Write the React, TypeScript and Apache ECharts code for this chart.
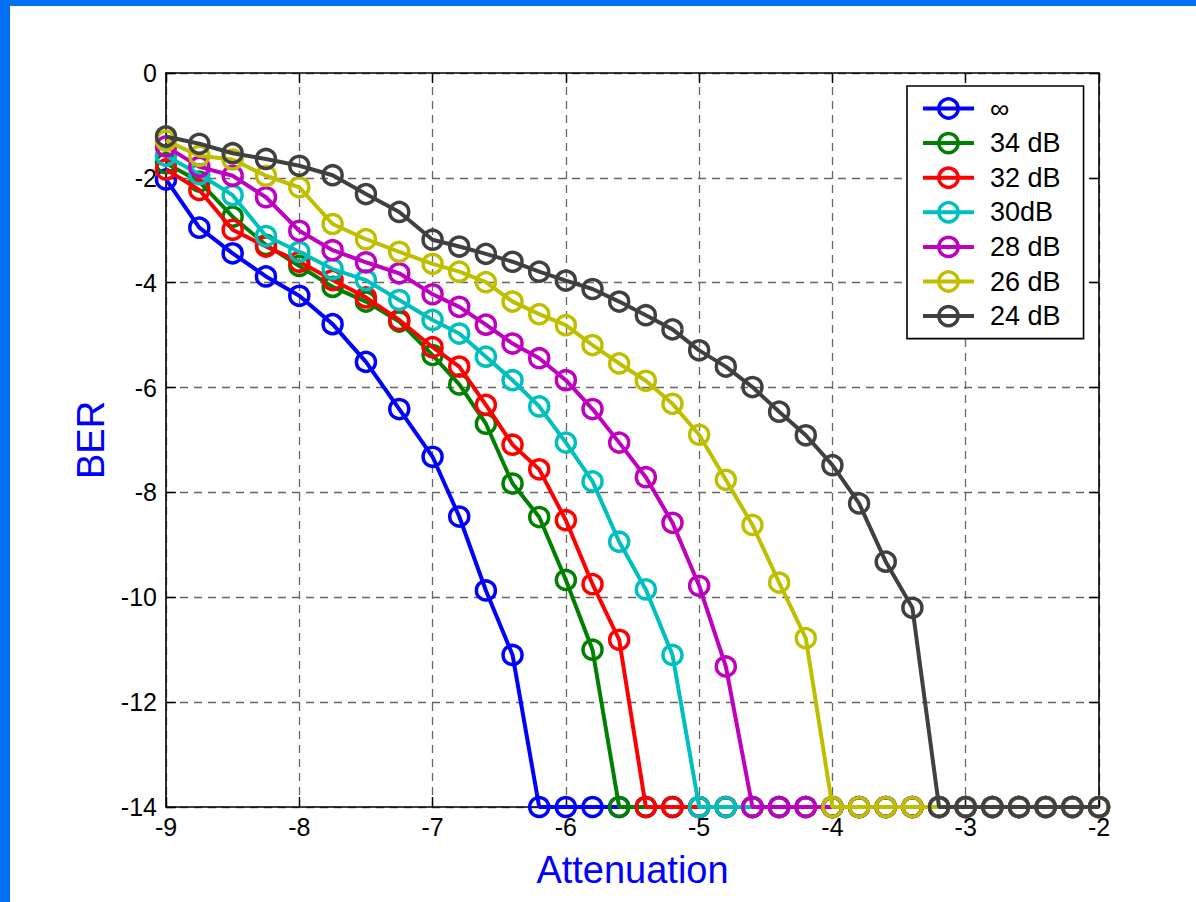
import React, { useEffect, useRef } from "react";
import * as echarts from "echarts";

const attenuation = [
  -9, -8.75, -8.5, -8.25, -8, -7.75, -7.5, -7.25, -7, -6.8, -6.6, -6.4, -6.2, -6, -5.8, -5.6, -5.4,
  -5.2, -5, -4.8, -4.6, -4.4, -4.2, -4, -3.8, -3.6, -3.4, -3.2, -3, -2.8, -2.6, -2.4, -2.2, -2,
];

const seriesNames = ["∞", "34 dB", "32 dB", "30dB", "28 dB", "26 dB", "24 dB"];
const seriesColors = ["#0000ff", "#008000", "#ff0000", "#00bfbf", "#bf00bf", "#bfbf00", "#404040"];

const berInf = [
  -2.03, -2.95, -3.44, -3.88, -4.25, -4.79, -5.51, -6.41, -7.32, -8.46, -9.87, -11.1, -14, -14, -14,
  -14, -14, -14, -14, -14, -14, -14, -14, -14, -14, -14, -14, -14, -14, -14, -14, -14, -14, -14,
];
const ber34 = [
  -1.72, -2.07, -2.74, -3.28, -3.68, -4.08, -4.36, -4.74, -5.38, -5.94, -6.69, -7.83, -8.47, -9.67,
  -11.0, -14, -14, -14, -14, -14, -14, -14, -14, -14, -14, -14, -14, -14, -14, -14, -14, -14, -14, -14,
];
const ber32 = [
  -1.84, -2.23, -2.99, -3.31, -3.6, -3.95, -4.28, -4.71, -5.23, -5.6, -6.33, -7.09, -7.56, -8.53,
  -9.75, -10.81, -14, -14, -14, -14, -14, -14, -14, -14, -14, -14, -14, -14, -14, -14, -14, -14, -14, -14,
];
const ber30 = [
  -1.58, -1.93, -2.33, -3.11, -3.41, -3.74, -3.95, -4.33, -4.71, -4.97, -5.41, -5.86, -6.36, -7.05,
  -7.79, -8.94, -9.85, -11.1, -14, -14, -14, -14, -14, -14, -14, -14, -14, -14, -14, -14, -14, -14, -14, -14,
];
const ber28 = [
  -1.4, -1.79, -1.96, -2.37, -3.01, -3.38, -3.61, -3.82, -4.22, -4.46, -4.8, -5.16, -5.44, -5.86,
  -6.41, -7.05, -7.71, -8.58, -9.78, -11.32, -14, -14, -14, -14, -14, -14, -14, -14, -14, -14, -14, -14, -14, -14,
];
const ber26 = [
  -1.29, -1.58, -1.65, -1.96, -2.18, -2.88, -3.17, -3.41, -3.64, -3.79, -3.99, -4.36, -4.6, -4.81,
  -5.19, -5.54, -5.87, -6.31, -6.9, -7.76, -8.62, -9.72, -10.78, -14, -14, -14, -14, -14, -14, -14, -14, -14, -14, -14,
];
const ber24 = [
  -1.21, -1.35, -1.53, -1.64, -1.77, -1.95, -2.31, -2.65, -3.18, -3.31, -3.45, -3.6, -3.79, -3.96,
  -4.12, -4.36, -4.62, -4.89, -5.29, -5.6, -5.99, -6.46, -6.91, -7.48, -8.21, -9.32, -10.2, -14, -14,
  -14, -14, -14, -14, -14,
];

const seriesValues = [berInf, ber34, ber32, ber30, ber28, ber26, ber24];

const FONT = "'Liberation Sans', Arial, Helvetica, sans-serif";

export default function App() {
  const ref = useRef<HTMLDivElement>(null);

  useEffect(() => {
    if (!ref.current) return;
    const chart = echarts.init(ref.current, null, { renderer: "svg" });
    const dashed = { show: true, lineStyle: { color: "#666", width: 1.3, type: [8, 6] as any } };
    const axisLine = { show: true, onZero: false, lineStyle: { color: "#000", width: 1.6 } };
    const tick = { show: true, inside: true, length: 10, lineStyle: { color: "#000", width: 1.4 } };

    chart.setOption({
      animation: false,
      backgroundColor: "#ffffff",
      textStyle: { fontFamily: FONT },
      graphic: [
        { type: "rect", left: 0, top: 0, shape: { width: 1196, height: 6 }, style: { fill: "#0070f4" } },
        { type: "rect", left: 0, top: 0, shape: { width: 10, height: 902 }, style: { fill: "#0070f4" } },
      ],
      grid: { left: 166, top: 73, right: 97, bottom: 95, containLabel: false },
      legend: {
        left: 907,
        top: 86,
        orient: "vertical",
        itemWidth: 51,
        itemHeight: 24,
        itemGap: 7.6,
        padding: [9, 23, 9, 14],
        borderColor: "#000",
        borderWidth: 1.6,
        backgroundColor: "#fff",
        borderRadius: 0,
        lineStyle: { width: 4 },
        itemStyle: { borderWidth: 3.5 },
        textStyle: { fontSize: 27, color: "#000", fontFamily: FONT, lineHeight: 24, padding: [0, 0, 0, 11] },
        data: seriesNames,
      },
      xAxis: [
        {
          type: "value",
          min: -9,
          max: -2,
          interval: 1,
          position: "bottom",
          name: "Attenuation",
          nameLocation: "middle",
          nameGap: 44,
          nameTextStyle: { fontSize: 38, color: "#0000ff", fontFamily: FONT },
          axisLine,
          axisTick: tick,
          axisLabel: { fontSize: 25, color: "#000", margin: 7, fontFamily: FONT },
          splitLine: dashed,
        },
        {
          type: "value",
          min: -9,
          max: -2,
          interval: 1,
          position: "top",
          axisLine,
          axisTick: tick,
          axisLabel: { show: false },
          splitLine: { show: false },
        },
      ],
      yAxis: [
        {
          type: "value",
          min: -14,
          max: 0,
          interval: 2,
          position: "left",
          name: "BER",
          nameLocation: "middle",
          nameGap: 55,
          nameTextStyle: { fontSize: 38, color: "#0000ff", fontFamily: FONT },
          axisLine,
          axisTick: tick,
          axisLabel: { fontSize: 25, color: "#000", margin: 9, fontFamily: FONT },
          splitLine: dashed,
        },
        {
          type: "value",
          min: -14,
          max: 0,
          interval: 2,
          position: "right",
          axisLine,
          axisTick: tick,
          axisLabel: { show: false },
          splitLine: { show: false },
        },
      ],
      series: seriesNames.map((name, i) => ({
        name,
        type: "line",
        xAxisIndex: 0,
        yAxisIndex: 0,
        clip: false,
        symbol: "circle",
        symbolSize: 19,
        showAllSymbol: true,
        data: attenuation.map((x, j) => [x, seriesValues[i][j]]),
        lineStyle: { color: seriesColors[i], width: 4 },
        itemStyle: { color: "rgba(255,255,255,0)", borderColor: seriesColors[i], borderWidth: 3.5 },
        color: seriesColors[i],
        emphasis: { disabled: true },
        z: 2 + i,
      })),
    });
    return () => chart.dispose();
  }, []);

  return (
    <div
      ref={ref}
      style={{ position: "fixed", left: 0, top: 0, width: 1196, height: 902, background: "#fff" }}
    />
  );
}
